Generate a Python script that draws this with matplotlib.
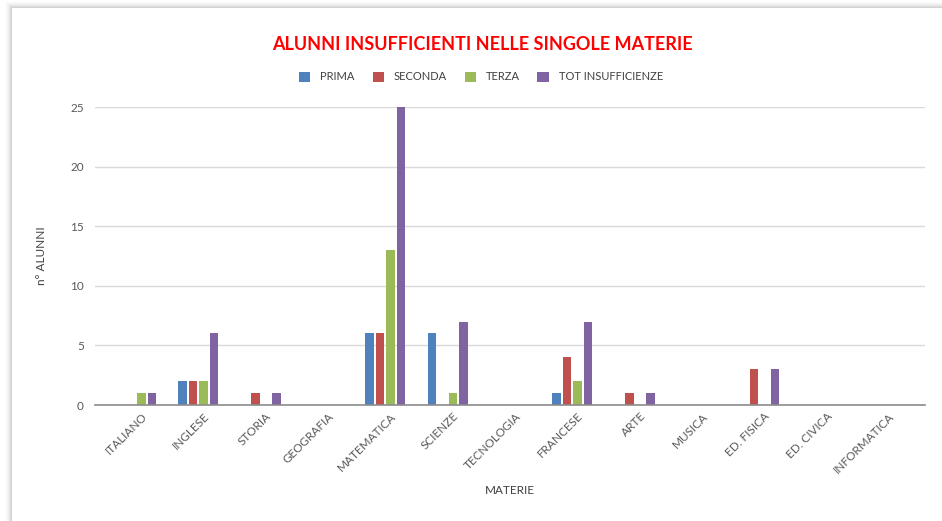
import matplotlib
matplotlib.use("Agg")
import matplotlib.pyplot as plt
from matplotlib.patches import Rectangle
import matplotlib.transforms as mtransforms
import numpy as np

categories = ["ITALIANO", "INGLESE", "STORIA", "GEOGRAFIA", "MATEMATICA", "SCIENZE",
              "TECNOLOGIA", "FRANCESE", "ARTE", "MUSICA", "ED. FISICA", "ED. CIVICA",
              "INFORMATICA"]
prima = [0, 2, 0, 0, 6, 6, 0, 1, 0, 0, 0, 0, 0]
seconda = [0, 2, 1, 0, 6, 0, 0, 4, 1, 0, 3, 0, 0]
terza = [1, 2, 0, 0, 13, 1, 0, 2, 0, 0, 0, 0, 0]
tot = [1, 6, 1, 0, 25, 7, 0, 7, 1, 0, 3, 0, 0]
series_names = ["PRIMA", "SECONDA", "TERZA", "TOT INSUFFICIENZE"]
colors = ["#4f81bd", "#c0504d", "#9bbb59", "#8064a2"]
yticks = [0, 5, 10, 15, 20, 25]

plt.rcParams['font.family'] = ['Lato', 'DejaVu Sans']

W, H = 942, 521
fig = plt.figure(figsize=(W / 100, H / 100), dpi=100)
fig.patch.set_facecolor("white")

# card shadow (left/top)
for i in range(8):
    a = 0.05 * (1 - i / 8)
    fig.patches.append(Rectangle(((12 - i) / W, 0), (W - 12 + i) / W, (H - 8 + i) / H,
                                 transform=fig.transFigure, facecolor="black",
                                 alpha=a, edgecolor="none", zorder=0))
fig.patches.append(Rectangle((12 / W, 0), (W - 12) / W, (H - 8) / H,
                             transform=fig.transFigure, facecolor="white",
                             edgecolor="none", zorder=1))

left, right = 95, 925
y0, y25 = 405, 107
ax = fig.add_axes([left / W, (H - y0) / H, (right - left) / W, (y0 - y25) / H])
ax.set_facecolor("none")
ax.set_zorder(2)

x = np.arange(len(categories))
width = 0.136
step = 0.168
data = [prima, seconda, terza, tot]
for i, (vals, c, name) in enumerate(zip(data, colors, series_names)):
    ax.bar(x + (i - 1.5) * step, vals, width=width, color=c, label=name, zorder=3)

ax.set_xlim(-0.66, 12.66)
ax.set_ylim(0, 25)
ax.set_yticks(yticks)
ax.set_yticklabels([str(v) for v in yticks], fontsize=8.5, color="#595959")
ax.yaxis.grid(True, color="#d9d9d9", linewidth=1)
ax.set_axisbelow(True)
for s in ["top", "right", "left"]:
    ax.spines[s].set_visible(False)
ax.spines["bottom"].set_color("#8c8c8c")
ax.spines["bottom"].set_linewidth(1.2)
ax.spines["bottom"].set_zorder(4)
ax.tick_params(axis="y", length=0, pad=8)
ax.tick_params(axis="x", length=0, pad=4)
ax.set_xticks(x)
ax.set_xticklabels(categories, rotation=45, ha="right", va="top",
                   rotation_mode="anchor", fontsize=8.5, color="#595959")
offset = mtransforms.ScaledTranslation(5 / 100, 0, fig.dpi_scale_trans)
for lbl in ax.get_xticklabels():
    lbl.set_transform(lbl.get_transform() + offset)

ax.set_ylabel("n° ALUNNI", fontsize=8.5, color="#404040", labelpad=17)
fig.text(510 / W, 1 - 491 / H, "MATERIE", ha="center", va="center",
         fontsize=8.5, color="#404040")

fig.text(482 / W, 1 - 44 / H, "ALUNNI INSUFFICIENTI NELLE SINGOLE MATERIE",
         ha="center", va="center", fontsize=13, fontweight="bold", color="#ff0000")

handles, labels = ax.get_legend_handles_labels()
fig.legend(handles, labels, loc="center", bbox_to_anchor=(481 / W, 1 - 77 / H),
           ncol=4, frameon=False, fontsize=8, handlelength=1.0, handleheight=1.0,
           columnspacing=1.6, handletextpad=0.9, labelcolor="#404040")

fig.savefig("out.png", dpi=100, facecolor="white")
